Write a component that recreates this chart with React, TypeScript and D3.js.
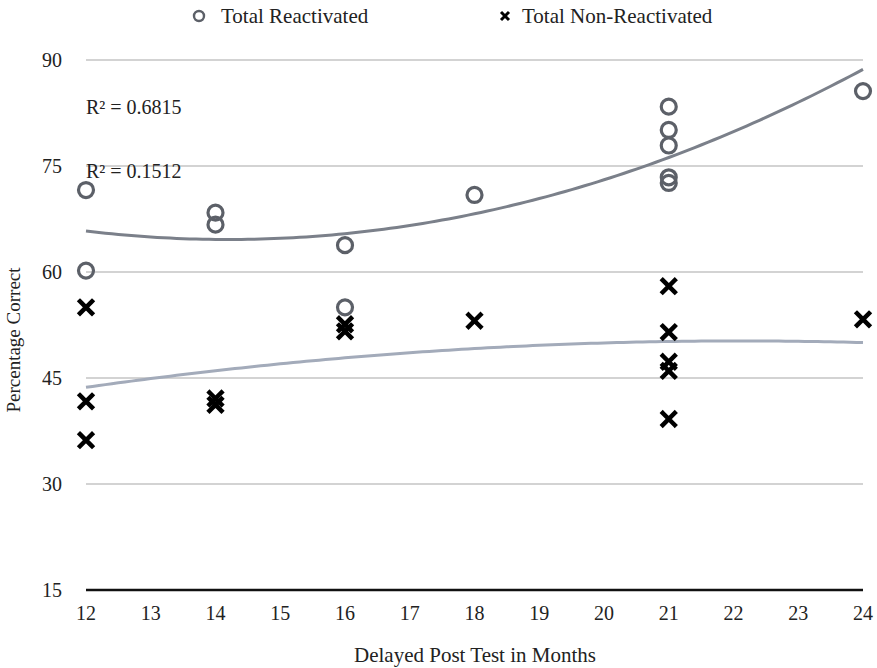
import { useEffect, useRef } from "react"
import * as d3 from "d3"

// months of the delayed post test
const reactivatedX = [12, 12, 14, 14, 16, 16, 18, 21, 21, 21, 21, 21, 24]
const reactivatedY = [71.6, 60.2, 68.4, 66.7, 63.8, 55.0, 70.9, 83.4, 80.1, 77.9, 73.4, 72.6, 85.6]

const nonReactX = [12, 12, 12, 14, 14, 16, 16, 18, 21, 21, 21, 21, 21, 24]
const nonReactY = [55.0, 41.7, 36.2, 42.1, 41.2, 52.6, 51.6, 53.1, 58.0, 51.5, 47.3, 46.0, 39.2, 53.3]

const yTicks = [15, 30, 45, 60, 75, 90]
const xTicks = [12, 13, 14, 15, 16, 17, 18, 19, 20, 21, 22, 23, 24]
const r2Labels = ["R² = 0.6815", "R² = 0.1512"]

// least squares fit, order 2 (same as the spreadsheet trendline)
function polyFit(xs: number[], ys: number[]) {
  const n = xs.length
  const s = [0, 0, 0, 0, 0]
  const t = [0, 0, 0]
  for (let i = 0; i < n; i++) {
    for (let k = 0; k < 5; k++) s[k] += Math.pow(xs[i], k)
    for (let k = 0; k < 3; k++) t[k] += ys[i] * Math.pow(xs[i], k)
  }
  const m = [
    [s[0], s[1], s[2], t[0]],
    [s[1], s[2], s[3], t[1]],
    [s[2], s[3], s[4], t[2]],
  ]
  for (let c = 0; c < 3; c++) {
    for (let r = c + 1; r < 3; r++) {
      const f = m[r][c] / m[c][c]
      for (let k = c; k < 4; k++) m[r][k] -= f * m[c][k]
    }
  }
  const b = [0, 0, 0]
  for (let r = 2; r >= 0; r--) {
    let v = m[r][3]
    for (let k = r + 1; k < 3; k++) v -= m[r][k] * b[k]
    b[r] = v / m[r][r]
  }
  return (x: number) => b[0] + b[1] * x + b[2] * x * x
}

export default function App() {
  const svgRef = useRef<SVGSVGElement>(null)

  useEffect(() => {
    if (!svgRef.current) return
    const svg = d3.select(svgRef.current)
    svg.selectAll("*").remove()

    const font = "Liberation Serif, DejaVu Serif, serif"
    const fs = "20px"
    const x = d3.scaleLinear().domain([12, 24]).range([86, 863])
    const y = d3.scaleLinear().domain([15, 90]).range([590, 60])

    // gridlines
    svg
      .append("g")
      .selectAll("line")
      .data(yTicks.filter((d) => d !== 15))
      .enter()
      .append("line")
      .attr("x1", x(12))
      .attr("x2", x(24))
      .attr("y1", (d) => y(d))
      .attr("y2", (d) => y(d))
      .attr("stroke", "#c4c4c4")
      .attr("stroke-width", 1.5)

    // baseline
    svg
      .append("line")
      .attr("x1", x(12))
      .attr("x2", x(24))
      .attr("y1", y(15))
      .attr("y2", y(15))
      .attr("stroke", "#111")
      .attr("stroke-width", 2.5)

    // y tick labels
    svg
      .append("g")
      .selectAll("text")
      .data(yTicks)
      .enter()
      .append("text")
      .attr("x", 62)
      .attr("y", (d) => y(d) + 7)
      .attr("text-anchor", "end")
      .attr("font-family", font)
      .attr("font-size", fs)
      .attr("fill", "#222")
      .text((d) => d)

    // x tick labels
    svg
      .append("g")
      .selectAll("text")
      .data(xTicks)
      .enter()
      .append("text")
      .attr("x", (d) => x(d))
      .attr("y", 620)
      .attr("text-anchor", "middle")
      .attr("font-family", font)
      .attr("font-size", fs)
      .attr("fill", "#222")
      .text((d) => d)

    // axis titles
    svg
      .append("text")
      .attr("x", 475)
      .attr("y", 662)
      .attr("text-anchor", "middle")
      .attr("font-family", font)
      .attr("font-size", "21px")
      .attr("fill", "#222")
      .text("Delayed Post Test in Months")

    svg
      .append("text")
      .attr("transform", `translate(20,${340}) rotate(-90)`)
      .attr("text-anchor", "middle")
      .attr("font-family", font)
      .attr("font-size", "19px")
      .attr("fill", "#222")
      .text("Percentage Correct")

    // trendlines
    const fitR = polyFit(reactivatedX, reactivatedY)
    const fitN = polyFit(nonReactX, nonReactY)
    const xs = d3.range(12, 24.001, 0.1)
    const line = (f: (v: number) => number) =>
      d3
        .line<number>()
        .x((d) => x(d))
        .y((d) => y(f(d)))(xs)

    svg
      .append("path")
      .attr("d", line(fitR))
      .attr("fill", "none")
      .attr("stroke", "#7b808a")
      .attr("stroke-width", 3)

    svg
      .append("path")
      .attr("d", line(fitN))
      .attr("fill", "none")
      .attr("stroke", "#a3abba")
      .attr("stroke-width", 3)

    // R² labels
    svg
      .append("g")
      .selectAll("text")
      .data(r2Labels)
      .enter()
      .append("text")
      .attr("x", 86)
      .attr("y", (_d, i) => 114 + i * 64)
      .attr("font-family", font)
      .attr("font-size", fs)
      .attr("fill", "#222")
      .text((d) => d)

    // crosses
    const cross = "M-6,-6L6,6M6,-6L-6,6"
    svg
      .append("g")
      .selectAll("path")
      .data(nonReactX.map((d, i) => [d, nonReactY[i]]))
      .enter()
      .append("path")
      .attr("d", cross)
      .attr("transform", (d) => `translate(${x(d[0])},${y(d[1])})`)
      .attr("stroke", "#000")
      .attr("stroke-width", 4.5)
      .attr("stroke-linecap", "square")

    // circles
    svg
      .append("g")
      .selectAll("circle")
      .data(reactivatedX.map((d, i) => [d, reactivatedY[i]]))
      .enter()
      .append("circle")
      .attr("cx", (d) => x(d[0]))
      .attr("cy", (d) => y(d[1]))
      .attr("r", 7.5)
      .attr("fill", "none")
      .attr("stroke", "#5c6068")
      .attr("stroke-width", 3.2)

    // legend
    const lg = svg.append("g")
    lg.append("circle")
      .attr("cx", 199)
      .attr("cy", 16)
      .attr("r", 5)
      .attr("fill", "none")
      .attr("stroke", "#5c6068")
      .attr("stroke-width", 2.4)
    lg.append("text")
      .attr("x", 221)
      .attr("y", 23)
      .attr("font-family", font)
      .attr("font-size", "21px")
      .attr("fill", "#222")
      .text("Total Reactivated")
    lg.append("path")
      .attr("d", "M-4,-4L4,4M4,-4L-4,4")
      .attr("transform", "translate(505,16)")
      .attr("stroke", "#000")
      .attr("stroke-width", 3)
    lg.append("text")
      .attr("x", 522)
      .attr("y", 23)
      .attr("font-family", font)
      .attr("font-size", "21px")
      .attr("fill", "#222")
      .text("Total Non-Reactivated")
  }, [])

  return (
    <svg
      ref={svgRef}
      width={877}
      height={668}
      style={{ position: "absolute", left: 0, top: 0, background: "#fff" }}
    ></svg>
  )
}
